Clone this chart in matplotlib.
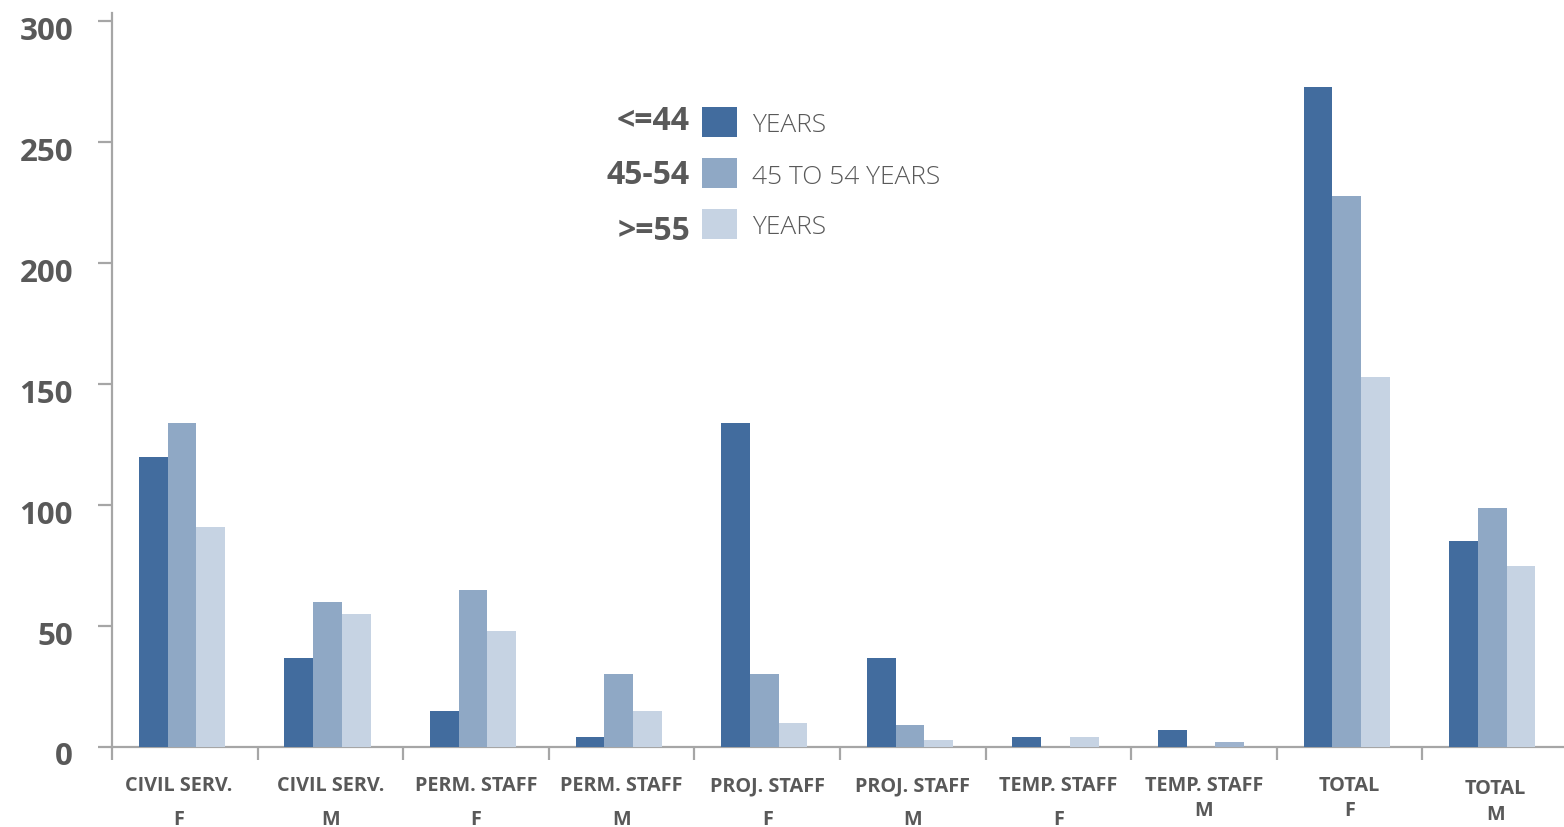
"""Staff by contract type, gender and age band: grouped bar chart."""

import numpy as np
import matplotlib

matplotlib.use("Agg")

import matplotlib.pyplot as plt
from matplotlib.patches import Rectangle
from matplotlib.transforms import ScaledTranslation


CATEGORIES = [
    ("CIVIL SERV.", "F"), ("CIVIL SERV.", "M"),
    ("PERM. STAFF", "F"), ("PERM. STAFF", "M"),
    ("PROJ. STAFF", "F"), ("PROJ. STAFF", "M"),
    ("TEMP. STAFF", "F"), ("TEMP. STAFF", "M"),
    ("TOTAL", "F"), ("TOTAL", "M"),
]
UNDER_45 = [120, 37, 15, 4, 134, 37, 4, 7, 273, 85]
FROM_45_TO_54 = [134, 60, 65, 30, 30, 9, 0, 0, 228, 99]
OVER_55 = [91, 55, 48, 15, 10, 3, 4, 2, 153, 75]

SERIES_SHORT = ["<=44", "45-54", ">=55"]
SERIES_LONG = ["YEARS", "45 TO 54 YEARS", "YEARS"]
Y_TICKS = [0, 50, 100, 150, 200, 250, 300]

COLORS = ["#426c9e", "#8fa8c5", "#c6d3e3"]
TEXT = "#595959"
AXIS = "#a6a6a6"
FONT = ["Open Sans", "DejaVu Sans"]

W, H = 1564, 828


def px(x, y):
    return x / W, 1 - y / H


def main() -> None:
    plt.rcParams["font.family"] = FONT
    fig = plt.figure(figsize=(W / 100, H / 100), dpi=100, facecolor="white")
    ax = fig.add_axes([112 / W, 80 / H, 1456 / W, 734 / H])

    x = np.arange(len(CATEGORIES))
    width = 0.197
    shift = -0.02
    series = [UNDER_45, FROM_45_TO_54, OVER_55]
    bars = []
    for k, (vals, color) in enumerate(zip(series, COLORS)):
        bars.append(ax.bar(x + shift + (k - 1) * width, vals, width=width, color=color,
                           linewidth=0, zorder=3))
    # the small >=55 bar under TEMP. STAFF M is drawn in the mid tone in the source
    bars[2][7].set_facecolor("#9db2cd")

    ax.set_xlim(-0.5, 9.5)
    ax.set_ylim(0, 303.5)
    for side in ("top", "right"):
        ax.spines[side].set_visible(False)
    for side in ("left", "bottom"):
        ax.spines[side].set_color(AXIS)
        ax.spines[side].set_linewidth(1.6)
        ax.spines[side].set_zorder(2)

    ax.set_xticks(np.arange(-0.5, 10.0, 1.0))
    ax.set_xticklabels([])
    ax.tick_params(axis="x", direction="out", length=9.5, width=1.6, color=AXIS)

    ax.set_yticks(Y_TICKS)
    ax.set_yticklabels([str(t) for t in Y_TICKS])
    ax.tick_params(axis="y", direction="out", length=10, width=1.6, color=AXIS, pad=18,
                   labelsize=22.5, labelcolor=TEXT)
    offset = ScaledTranslation(0, -6 / 100, fig.dpi_scale_trans)
    for lab in ax.get_yticklabels():
        lab.set_fontweight("bold")
        lab.set_transform(lab.get_transform() + offset)

    # two-line category labels; vertical offsets (px below axis) follow the source
    line_offsets = [(38, 72)] * 7 + [(38, 63), (38, 63), (41, 67)]
    x_nudge = [-0.045] + [0.0] * 9
    for i, ((top, bottom), (o1, o2)) in enumerate(zip(CATEGORIES, line_offsets)):
        for text, off in ((top, o1), (bottom, o2)):
            ax.annotate(text, xy=(i + x_nudge[i], 0), xycoords=("data", "axes fraction"),
                        xytext=(0, -off * 0.72), textcoords="offset points",
                        ha="center", va="center", fontsize=14.3, fontweight="bold",
                        color=TEXT, annotation_clip=False)

    # legend block in the middle of the plot
    swatch_y = [123, 174, 225]
    short_y = [122, 176, 231]
    long_y = [125, 177, 228]
    for k in range(3):
        fig.text(*px(690, short_y[k]), SERIES_SHORT[k], ha="right", va="center",
                 fontsize=23, fontweight="bold", color=TEXT)
        fig.patches.append(Rectangle(px(702, swatch_y[k] + 15), 35 / W, 30 / H,
                                     transform=fig.transFigure, facecolor=COLORS[k],
                                     edgecolor="none"))
        fig.text(*px(752, long_y[k]), SERIES_LONG[k], ha="left", va="center",
                 fontsize=19, fontweight="light", color=TEXT)

    fig.savefig("out.png", dpi=100, facecolor="white")
    plt.close(fig)


if __name__ == "__main__":
    main()
